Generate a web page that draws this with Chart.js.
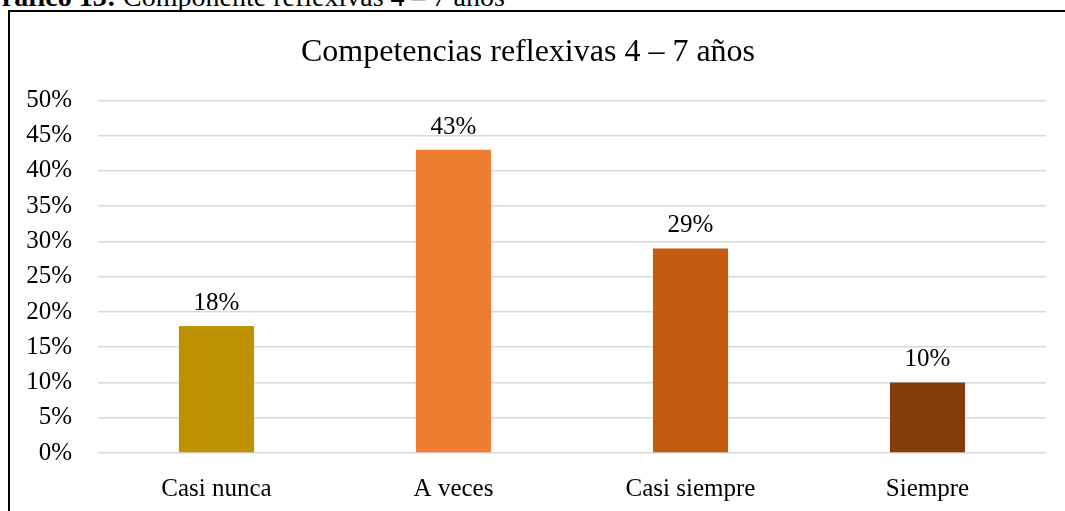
<!DOCTYPE html>
<html>
<head>
<meta charset="utf-8">
<script src="https://cdn.jsdelivr.net/npm/chart.js@4"></script>
<style>
body { margin: 0; background: #fff; overflow: hidden; }
#caption { position: absolute; left: -20px; top: -17px; font: 28px "Liberation Serif", serif; line-height: 1; white-space: nowrap; color: #000; }
#frame { position: absolute; left: 8px; top: 10px; width: 1100px; height: 600px; border-top: 2px solid #000; border-left: 2px solid #000; }
#grafico { position: absolute; left: 0; top: 0; }
</style>
</head>
<body>
<div id="caption"><b>Gráfico 13:</b> Componente reflexivas 4 – 7 años</div>
<div id="frame"></div>
<canvas id="grafico" width="1065" height="511"></canvas>
<script>
var categorias = ["Casi nunca", "A veces", "Casi siempre", "Siempre"]
var valores = [0.18, 0.43, 0.29, 0.10]
var colores = ["#BF9000", "#ED7D31", "#C55A11", "#843C0C"]
var titulo = "Competencias reflexivas 4 – 7 años"

var fuente = "'Liberation Serif', 'Times New Roman', serif"

// etiquetas encima de cada barra
var etiquetas = {
  id: "etiquetas",
  afterDatasetsDraw(chart) {
    var ctx = chart.ctx
    ctx.save()
    ctx.font = "25px " + fuente
    ctx.fillStyle = "#000"
    ctx.textAlign = "center"
    ctx.textBaseline = "alphabetic"
    chart.getDatasetMeta(0).data.forEach((bar, i) => {
      ctx.fillText(Math.round(valores[i] * 100) + "%", bar.x, bar.y - 16)
    })
    ctx.restore()
  }
}

new Chart("grafico", {
  type: "bar",
  data: {
    labels: categorias,
    datasets: [{
      data: valores,
      backgroundColor: colores,
      barPercentage: 1,
      categoryPercentage: 0.317
    }]
  },
  plugins: [etiquetas],
  options: {
    responsive: false,
    animation: false,
    layout: { padding: { left: 10, right: 19, top: 16, bottom: 0 } },
    plugins: {
      legend: { display: false },
      tooltip: { enabled: false },
      title: {
        display: true,
        text: titulo,
        color: "#000",
        font: { family: fuente, size: 32, weight: "normal" },
        padding: { top: 17, bottom: 29 }
      }
    },
    scales: {
      x: {
        afterFit: s => { s.height = 58 },
        grid: { display: false },
        border: { display: false },
        ticks: { color: "#000", padding: 13, font: { family: fuente, size: 25 } }
      },
      y: {
        min: 0,
        max: 0.5,
        afterFit: s => { s.width = 88 },
        grid: { color: "#d9d9d9", lineWidth: 1.5, drawTicks: false },
        border: { display: false },
        ticks: {
          stepSize: 0.05,
          padding: 26,
          color: "#000",
          font: { family: fuente, size: 25 },
          callback: v => Math.round(v * 100) + "%"
        }
      }
    }
  }
})
</script>
</body>
</html>
